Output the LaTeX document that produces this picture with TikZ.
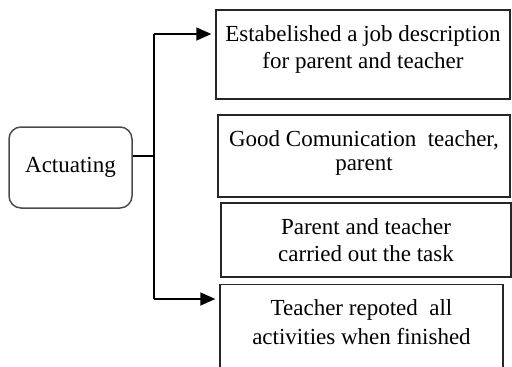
\documentclass[tikz,border=0pt]{standalone}
\usepackage{fontspec}
\setmainfont{Liberation Serif}
\usetikzlibrary{arrows.meta}

\begin{document}
\begin{tikzpicture}[x=1pt,y=-1pt,
	every node/.style={font=\fontsize{23}{27}\selectfont,align=center,inner sep=0pt},
	task/.style={draw=black!85,line width=1.3pt},
	link/.style={line width=1.4pt,-{Triangle[length=15pt,width=13pt]},shorten >=4pt}
	]
	\useasboundingbox (0,0) rectangle (512,367);
	
	%function box on the left
	\node[draw=black!70,line width=1.5pt,rounded corners=12pt,minimum width=123pt,minimum height=81pt] (act) at (70.5,167.5) {Actuating};
	
	%the activities, top to bottom
	\node[task,minimum width=294pt,minimum height=89pt,text depth=14pt] (job) at (363,54.5) {Estabelished a job description\\for parent and teacher};
	\node[task,minimum width=292pt,minimum height=82pt,text depth=11pt,font=\fontsize{23}{24}\selectfont] (talk) at (364,156) {Good Comunication\ \ teacher,\\parent};
	\node[task,minimum width=290pt,minimum height=74pt] (task) at (366,240) {Parent and teacher\\carried out the task};
	%last box runs off the bottom edge
	\node[task,anchor=north,minimum width=283pt,inner ysep=15pt,text depth=30pt,font=\fontsize{23}{29}\selectfont] (report) at (361.5,284) {Teacher repoted\ \ all\\activities when finished};
	
	%branching lines and arrows:
	\coordinate (fork) at (154,156);
	\coordinate (top) at (154,34);
	\coordinate (bot) at (154,299);
	\draw[line width=1.4pt] (act.east |- fork) -- (fork);
	\draw[line width=1.4pt] (top) -- (bot);
	\draw[link] (top) -- (top -| job.west);
	\draw[link] (bot) -- (bot -| report.west);
	
\end{tikzpicture}
\end{document}
